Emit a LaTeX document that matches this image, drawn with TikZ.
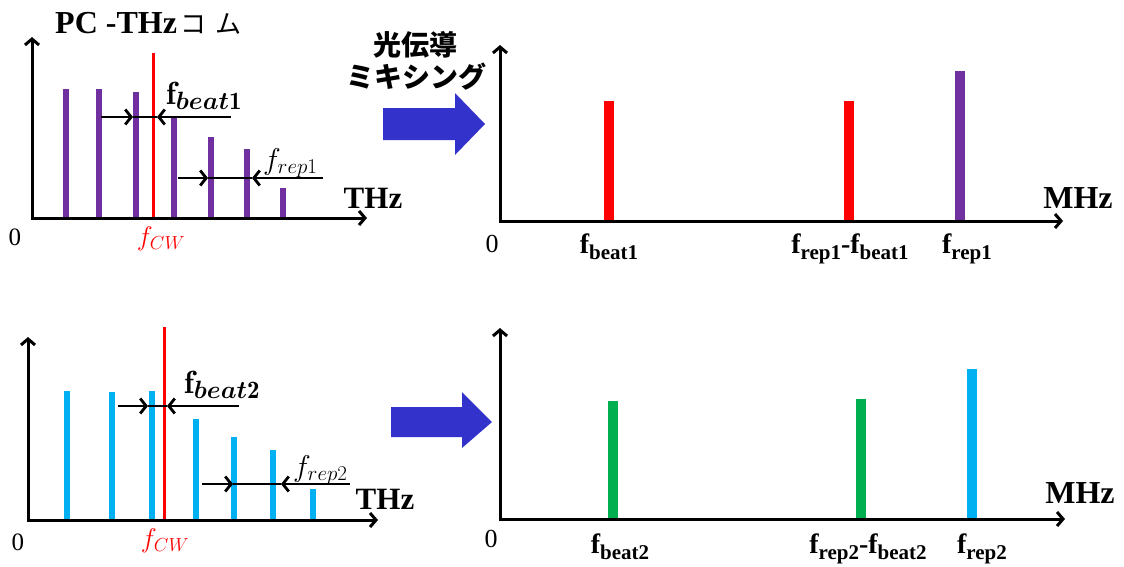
\RequirePackage{fix-cm}
\documentclass[tikz,border=0pt]{standalone}
\usepackage{bm}
\usepackage{fontspec}
\usetikzlibrary{arrows.meta}
\newfontfamily\tnr{Liberation Serif}
\newfontfamily\cjk{Noto Sans CJK JP}
\definecolor{cpurple}{HTML}{7030A0}
\definecolor{ccyan}{HTML}{00B0F0}
\definecolor{cgreen}{HTML}{00B050}
\definecolor{cred}{HTML}{FF0000}
\definecolor{cblue}{HTML}{3333CC}
\newcommand{\fz}[1]{\fontsize{#1}{#1}\selectfont}
\newcommand{\rlab}[2]{{\fz{28}\tnr\bfseries #1\raisebox{-0.22em}{\fz{21}#2}}}
\tikzset{
  axis/.style={line width=3pt,{Straight Barb[length=6pt,width=14pt]}-{Straight Barb[length=6pt,width=14pt]}},
  dimline/.style={line width=2.8pt},
  dimtip/.style={line width=2.8pt,-{Straight Barb[length=6pt,width=15pt]}},
  lbar/.style={line width=6pt},
  rbar/.style={line width=10pt},
  lab/.style={inner sep=0pt,anchor=base},
  bigarrow/.style={fill=cblue,draw=none}
}
\begin{document}
\begin{tikzpicture}[x=1pt,y=-1pt]
\useasboundingbox (0,0) rectangle (1124,566);
% ---------- top-left ----------
\coordinate (tlo) at (32,218);
\coordinate (tly) at (32,37);
\coordinate (tlx) at (367,218);
\foreach \x/\t in {66/89,99/89,136/92,174/117,211/137,247/149,283/188}
  \draw[lbar,cpurple] (\x,218) -- (\x,\t);
\draw[line width=3pt,cred] (153,53) -- (153,218);
\draw[axis] (tly) -- (tlo) -- (tlx);
\coordinate (b1a) at (101,117); \coordinate (b1b) at (133,117);
\coordinate (b1c) at (157,117); \coordinate (b1d) at (231,117);
\draw[dimline] (b1b) -- (b1c);
\draw[dimtip] (b1a) -- (b1b);
\draw[dimtip] (b1d) -- (b1c);
\coordinate (r1a) at (178,178); \coordinate (r1b) at (208,178);
\coordinate (r1c) at (252,178); \coordinate (r1d) at (323,178);
\draw[dimline] (r1b) -- (r1c);
\draw[dimtip] (r1a) -- (r1b);
\draw[dimtip] (r1d) -- (r1c);
\node[lab,anchor=base west] (title) at (55,33) {\fz{32}\tnr\bfseries PC -THz{\cjk\fz{26}\mdseries\hspace{4pt}コ\hspace{9pt}ム}};
\node[lab] (thz1) at (373,208) {\fz{31}\tnr\bfseries THz};
\node[lab] (zero1) at (15,245) {\fz{25}\tnr 0};
\node[lab,text=cred] (fcw1) at (161,245) {\fz{27}$f_{CW}$};
\node[lab,anchor=base west] (fbeat1) at (166,104) {\fz{32}$\mathbf{f}$\raisebox{-5pt}{\fz{25}$\bm{beat}\mathbf{1}$}};
\node[lab,anchor=base west] (frep1) at (263,169) {\fz{30}$f_{rep1}$};
% ---------- bottom-left ----------
\coordinate (blo) at (28,520);
\coordinate (bly) at (28,337);
\coordinate (blx) at (378,520);
\foreach \x/\t in {67/391,112/392,152/391,196/419,234/437,273/450,313/489}
  \draw[lbar,ccyan] (\x,520) -- (\x,\t);
\draw[line width=3pt,cred] (164,327) -- (164,520);
\draw[axis] (bly) -- (blo) -- (blx);
\coordinate (b2a) at (118,406); \coordinate (b2b) at (148,406);
\coordinate (b2c) at (167,406); \coordinate (b2d) at (239,406);
\draw[dimline] (b2b) -- (b2c);
\draw[dimtip] (b2a) -- (b2b);
\draw[dimtip] (b2d) -- (b2c);
\coordinate (r2a) at (202,484); \coordinate (r2b) at (233,484);
\coordinate (r2c) at (281,484); \coordinate (r2d) at (350,484);
\draw[dimline] (r2b) -- (r2c);
\draw[dimtip] (r2a) -- (r2b);
\draw[dimtip] (r2d) -- (r2c);
\node[lab] (thz2) at (385,509) {\fz{31}\tnr\bfseries THz};
\node[lab] (zero2) at (18,550) {\fz{25}\tnr 0};
\node[lab,text=cred] (fcw2) at (165,547) {\fz{27}$f_{CW}$};
\node[lab,anchor=base west] (fbeat2) at (184,393) {\fz{32}$\mathbf{f}$\raisebox{-5pt}{\fz{25}$\bm{beat}\mathbf{2}$}};
\node[lab,anchor=base west] (frep2) at (293,476) {\fz{30}$f_{rep2}$};
% ---------- middle ----------
\node[inner sep=0pt] (kou) at (415,45) {\cjk\fz{28}\bfseries 光伝導};
\node[inner sep=0pt] (mix) at (416,77) {\cjk\fz{28}\bfseries ミキシング};
\fill[bigarrow] (383,108) -- (455,108) -- (455,93) -- (485,124) -- (455,155) -- (455,140) -- (383,140) -- cycle;
\fill[bigarrow] (391,407) -- (462,407) -- (462,392) -- (492,422) -- (462,448) -- (462,437) -- (391,437) -- cycle;
% ---------- top-right ----------
\coordinate (tro) at (500,221);
\coordinate (try) at (500,45);
\coordinate (trx) at (1063,221);
\draw[rbar,cred] (609,221) -- (609,101);
\draw[rbar,cred] (849,221) -- (849,101);
\draw[rbar,cpurple] (960,221) -- (960,71);
\draw[axis] (try) -- (tro) -- (trx);
\node[lab] (mhz1) at (1078,208) {\fz{32}\tnr\bfseries MHz};
\node[lab] (zero3) at (492,252) {\fz{26}\tnr 0};
\node[lab] (rb1) at (609,253) {\rlab{f}{beat1}};
\node[lab] (rrb1) at (850,253) {\rlab{f}{rep1}\rlab{-f}{beat1}};
\node[lab] (rr1) at (967,253) {\rlab{f}{rep1}};
% ---------- bottom-right ----------
\coordinate (bro) at (500,519);
\coordinate (bry) at (500,328);
\coordinate (brx) at (1065,519);
\draw[rbar,cgreen] (613,519) -- (613,401);
\draw[rbar,cgreen] (861,519) -- (861,399);
\draw[rbar,ccyan] (972,519) -- (972,369);
\draw[axis] (bry) -- (bro) -- (brx);
\node[lab] (mhz2) at (1080,503) {\fz{32}\tnr\bfseries MHz};
\node[lab] (zero4) at (491,547) {\fz{26}\tnr 0};
\node[lab] (rb2) at (620,553) {\rlab{f}{beat2}};
\node[lab] (rrb2) at (868,553) {\rlab{f}{rep2}\rlab{-f}{beat2}};
\node[lab] (rr2) at (982,553) {\rlab{f}{rep2}};
\end{tikzpicture}
\end{document}
